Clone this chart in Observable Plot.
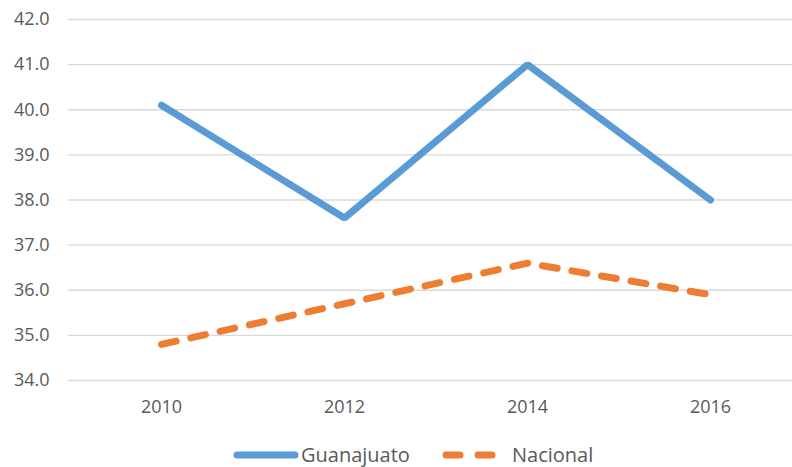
<!DOCTYPE html>
<html>
<head>
<meta charset="utf-8">
<script src="https://cdn.jsdelivr.net/npm/d3@7"></script>
<script src="https://cdn.jsdelivr.net/npm/@observablehq/plot@0.6"></script>
<style>
  body { margin: 0; background: #fff; font-family: "Open Sans", sans-serif; }
  #wrap { position: relative; width: 792px; height: 467px; }
  #legend { position: absolute; left: 0; top: 436px; width: 792px; height: 37px; }
  .item { position: absolute; top: 0; height: 37px; display: flex; align-items: center; font-size: 20px; color: #595959; }
</style>
</head>
<body>
<div id="wrap">
  <div id="chart"></div>
  <div id="legend">
    <div class="item" style="left:233px;">
      <svg width="66" height="10"><line x1="4" y1="5" x2="62" y2="5" stroke="#5B9BD5" stroke-width="7" stroke-linecap="round"/></svg>
      <span style="margin-left:2px">Guanajuato</span>
    </div>
    <div class="item" style="left:441px;">
      <svg width="58" height="10"><line x1="5" y1="5" x2="53" y2="5" stroke="#ED7D31" stroke-width="7" stroke-linecap="round" stroke-dasharray="14,18"/></svg>
      <span style="margin-left:13px">Nacional</span>
    </div>
  </div>
</div>
<script>
const years = ["2010", "2012", "2014", "2016"];
const guanajuato = [40.1, 37.6, 41.0, 38.0];
const nacional = [34.8, 35.7, 36.6, 35.9];
const yTicks = [34, 35, 36, 37, 38, 39, 40, 41, 42];

const data = [
  ...years.map((y, i) => ({year: y, value: guanajuato[i], series: "Guanajuato"})),
  ...years.map((y, i) => ({year: y, value: nacional[i], series: "Nacional"}))
];

const chart = Plot.plot({
  width: 792,
  height: 430,
  marginTop: 19,
  marginBottom: 50,
  marginLeft: 68,
  marginRight: 0,
  style: {fontFamily: "Open Sans", fontSize: "18px", color: "#595959", background: "#fff"},
  x: {type: "point", domain: years, range: [68, 802], padding: 0.5, label: null},
  y: {domain: [34, 42], label: null},
  marks: [
    Plot.ruleY(yTicks, {stroke: "#d9d9d9", strokeWidth: 1.3}),
    Plot.axisY({ticks: yTicks, tickSize: 0, tickPadding: 19, tickFormat: d3.format(".1f"), fill: "#595959"}),
    Plot.axisX({tickSize: 0, tickPadding: 20, fill: "#595959"}),
    Plot.line(data.filter(d => d.series === "Guanajuato"), {x: "year", y: "value", stroke: "#5B9BD5", strokeWidth: 7, strokeLinecap: "round", strokeLinejoin: "miter"}),
    Plot.line(data.filter(d => d.series === "Nacional"), {x: "year", y: "value", stroke: "#ED7D31", strokeWidth: 7, strokeLinecap: "round", strokeLinejoin: "round", strokeDasharray: "15,15"})
  ]
});
document.getElementById("chart").appendChild(chart);
</script>
</body>
</html>
